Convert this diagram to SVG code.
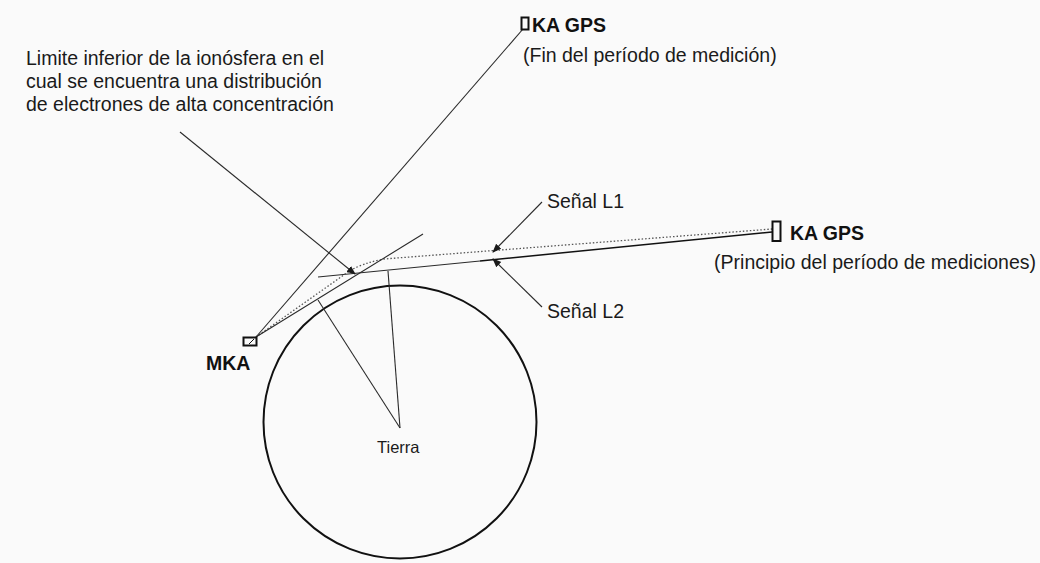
<svg xmlns="http://www.w3.org/2000/svg" width="1040" height="563" viewBox="0 0 1040 563">
<defs>
<style>
.t{font-family:"Liberation Sans",Arial,sans-serif;font-size:19.5px;fill:#1a1a1a}
.b{font-family:"Liberation Sans",Arial,sans-serif;font-size:19.5px;font-weight:bold;fill:#111}
.ln{stroke:#2a2a2a;stroke-width:1.1;fill:none}
.dot{stroke:#555;stroke-width:1.3;fill:none;stroke-dasharray:1.5 2}
.box{fill:none;stroke:#111;stroke-width:2}
</style>
<marker id="ah" viewBox="0 0 10 10" refX="9" refY="5" markerWidth="9" markerHeight="9" markerUnits="userSpaceOnUse" orient="auto">
<path d="M0,1 L10,5 L0,9 z" fill="#1a1a1a"/>
</marker>
</defs>
<rect width="1040" height="563" fill="#fafafa"/>
<g id="tierra">
<circle cx="400" cy="422" r="136.5" fill="none" stroke="#111" stroke-width="2"/>
<text class="t" x="377" y="453" style="font-size:16.5px">Tierra</text>
</g>
<g id="connectors">
<line class="ln" x1="400" y1="428" x2="388" y2="271"/>
<line class="ln" x1="400" y1="428" x2="318" y2="300"/>
<line class="ln" x1="318" y1="277" x2="480" y2="261"/>
<line class="ln" x1="480" y1="261" x2="772" y2="232" style="stroke-width:1.5;stroke:#111"/>
<path class="dot" d="M256,337 L348,272 Q362,263 384,259 L772,229"/>
<line class="ln" x1="256" y1="337" x2="423" y2="234"/>
<line class="ln" x1="256" y1="337" x2="523" y2="29"/>
<line class="ln" x1="180" y1="132" x2="355" y2="274" marker-end="url(#ah)"/>
<line class="ln" x1="542" y1="202" x2="493" y2="252" marker-end="url(#ah)"/>
<line class="ln" x1="542" y1="307" x2="493" y2="259" marker-end="url(#ah)"/>
</g>
<g id="mka">
<rect class="box" x="243.5" y="337.5" width="13" height="8"/>
<line x1="249" y1="344" x2="254" y2="339" stroke="#111" stroke-width="1"/>
<text class="b" x="206" y="370">MKA</text>
</g>
<g id="gps-fin">
<rect class="box" x="521.5" y="17.5" width="7" height="12"/>
<text class="b" x="532" y="32">KA GPS</text>
<text class="t" x="523" y="62">(Fin del período de medición)</text>
</g>
<g id="gps-principio">
<rect class="box" x="772.5" y="221.5" width="8" height="19.5"/>
<text class="b" x="790" y="240">KA GPS</text>
<text class="t" x="1036" y="269" text-anchor="end">(Principio del período de mediciones)</text>
</g>
<g id="label-ionosfera">
<text class="t" x="26" y="65">Limite inferior de la ionósfera en el</text>
<text class="t" x="26" y="88">cual se encuentra una distribución</text>
<text class="t" x="26" y="111">de electrones de alta concentración</text>
</g>
<g id="label-l1"><text class="t" x="547" y="208">Señal L1</text></g>
<g id="label-l2"><text class="t" x="547" y="318">Señal L2</text></g>
</svg>
